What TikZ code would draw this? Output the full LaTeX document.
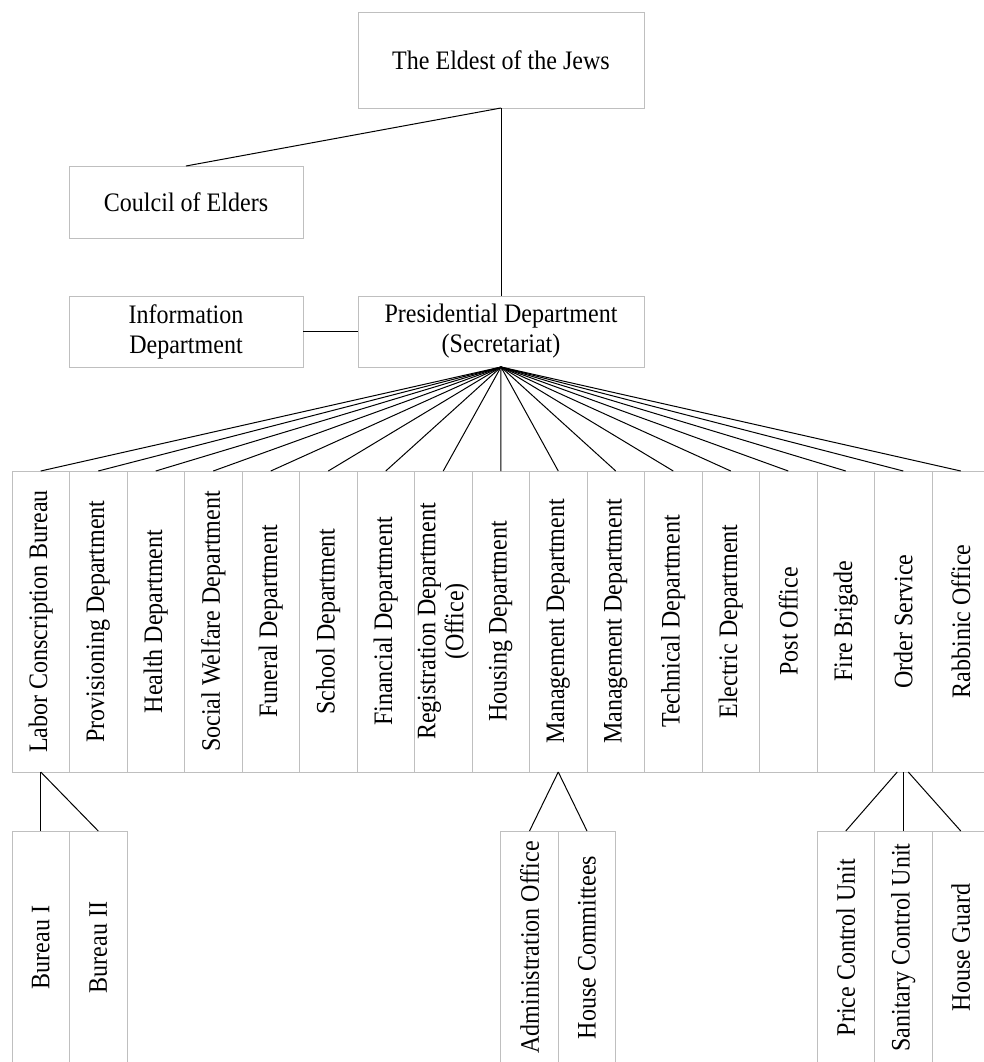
\documentclass[tikz,border=0pt]{standalone}
\usepackage{fontspec}
\setmainfont{Liberation Serif}[FakeStretch=0.9]
\begin{document}
\begin{tikzpicture}[x=1pt,y=-1pt,
  every node/.style={font=\fontsize{26.7}{30}\selectfont, inner sep=0pt, outer sep=0pt},
  box/.style={draw=black!25, line width=0.9pt, align=center},
  colbox/.style={box, minimum width=57.5pt, minimum height=301pt},
  subbox/.style={box, minimum width=57.5pt, minimum height=233pt},
  conn/.style={draw=black, line width=1pt}
]
\useasboundingbox (0,0) rectangle (984,1062);
\clip (0,0) rectangle (984,1062);
\fill[white] (0,0) rectangle (984,1062);

\node[box, minimum width=286pt, minimum height=96pt] (top) at (501,60) {The Eldest of the Jews};
\node[box, minimum width=234pt, minimum height=72pt] (council) at (186,202) {Coulcil of Elders};
\node[box, minimum width=234pt, minimum height=71pt] (info) at (186,331.5) {Information\\Department};
\node[box, minimum width=286pt, minimum height=71pt] (pres) at (501,331.5) {Presidential Department\\(Secretariat)};

\newcommand{\colx}[1]{12+57.5*#1+28.75}
\node[colbox] (c1) at ({\colx{0}},621.5) {\rotatebox{90}{Labor Conscription Bureau}};
\node[colbox] (c2) at ({\colx{1}},621.5) {\rotatebox{90}{Provisioning Department}};
\node[colbox] (c3) at ({\colx{2}},621.5) {\rotatebox{90}{Health Department}};
\node[colbox] (c4) at ({\colx{3}},621.5) {\rotatebox{90}{Social Welfare Department}};
\node[colbox] (c5) at ({\colx{4}},621.5) {\rotatebox{90}{Funeral Department}};
\node[colbox] (c6) at ({\colx{5}},621.5) {\rotatebox{90}{School Department}};
\node[colbox] (c7) at ({\colx{6}},621.5) {\rotatebox{90}{Financial Department}};
\node[colbox] (c8) at ({\colx{7}},621.5) {\rotatebox{90}{\begin{tabular}{@{}c@{}}Registration Department\\[-2pt](Office)\end{tabular}}};
\node[colbox] (c9) at ({\colx{8}},621.5) {\rotatebox{90}{Housing Department}};
\node[colbox] (c10) at ({\colx{9}},621.5) {\rotatebox{90}{Management Department}};
\node[colbox] (c11) at ({\colx{10}},621.5) {\rotatebox{90}{Management Department}};
\node[colbox] (c12) at ({\colx{11}},621.5) {\rotatebox{90}{Technical Department}};
\node[colbox] (c13) at ({\colx{12}},621.5) {\rotatebox{90}{Electric Department}};
\node[colbox] (c14) at ({\colx{13}},621.5) {\rotatebox{90}{Post Office}};
\node[colbox] (c15) at ({\colx{14}},621.5) {\rotatebox{90}{Fire Brigade}};
\node[colbox] (c16) at ({\colx{15}},621.5) {\rotatebox{90}{Order Service}};
\node[colbox] (c17) at ({\colx{16}},621.5) {\rotatebox{90}{Rabbinic Office}};

\node[subbox] (b1) at (40.75,947.5) {\rotatebox{90}{Bureau I}};
\node[subbox] (b2) at (98.25,947.5) {\rotatebox{90}{Bureau II}};
\node[subbox] (adm) at (529.5,947.5) {\rotatebox{90}{Administration Office}};
\node[subbox] (hc) at (587,947.5) {\rotatebox{90}{House Committees}};
\node[subbox] (pcu) at (845.75,947.5) {\rotatebox{90}{Price Control Unit}};
\node[subbox] (scu) at (903.25,947.5) {\rotatebox{90}{Sanitary Control Unit}};
\node[subbox] (hg) at (960.75,947.5) {\rotatebox{90}{House Guard}};

\draw[conn] (top.south) -- (council.north);
\draw[conn] (top.south) -- (pres.north);
\draw[conn] (info.east) -- (pres.west);
\foreach \i in {1,...,17} {
  \draw[conn] (pres.south) -- (c\i.north);
}
\draw[conn] (c1.south) -- (b1.north);
\draw[conn] (c1.south) -- (b2.north);
\draw[conn] (c10.south) -- (adm.north);
\draw[conn] (c10.south) -- (hc.north);
\draw[conn] ([xshift=-6pt]c16.south) -- (pcu.north);
\draw[conn] (c16.south) -- (scu.north);
\draw[conn] ([xshift=5pt]c16.south) -- (hg.north);
\end{tikzpicture}
\end{document}
